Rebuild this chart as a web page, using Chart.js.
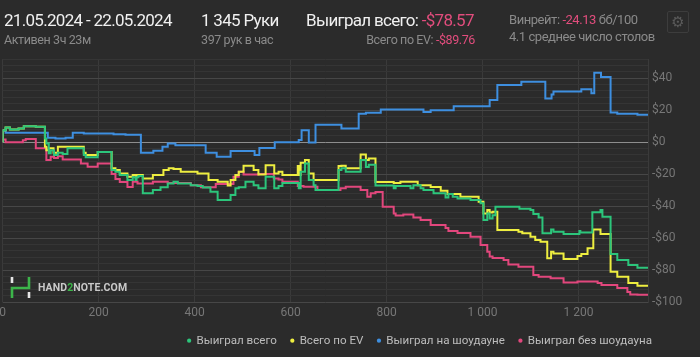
<!DOCTYPE html>
<html><head><meta charset="utf-8">
<script src="https://cdn.jsdelivr.net/npm/chart.js@4.4.1/dist/chart.umd.min.js"></script>
<style>
html,body{margin:0;padding:0;background:#2b2b2b;width:700px;height:357px;overflow:hidden;font-family:Roboto,"Noto Sans",sans-serif;}
#wrap{position:relative;width:700px;height:357px;}
canvas{position:absolute;left:0;top:0;}
.t{position:absolute;white-space:nowrap;line-height:1;}
.big{font-size:17px;color:#f0f0f0;letter-spacing:-0.7px;}
.sm{font-size:12.5px;color:#8a8a8a;letter-spacing:-0.4px;}
.md{font-size:13px;color:#8a8a8a;letter-spacing:-0.45px;}
.neg{color:#e24d7d;}
#gear{position:absolute;left:667px;top:11px;width:22px;height:22px;border:1px solid #3d3d3d;border-radius:2px;box-sizing:border-box;color:#5a5a5a;font-size:15px;line-height:20px;text-align:center;font-family:"DejaVu Sans";}
#wm{position:absolute;left:38px;top:283px;font-size:10.5px;font-weight:bold;color:#c9c9c9;line-height:1;letter-spacing:0.1px;}
</style></head>
<body><div id="wrap">
<canvas id="c" width="700" height="357"></canvas>
<div class="t big" style="left:4px;top:11.5px">21.05.2024 - 22.05.2024</div>
<div class="t sm" style="left:4px;top:33.5px">Активен 3ч 23м</div>
<div class="t big" style="left:201px;top:11.5px">1 345 Руки</div>
<div class="t sm" style="left:201px;top:33.5px">397 рук в час</div>
<div class="t big" style="left:306px;top:11.5px">Выиграл всего: <span class="neg">-$78.57</span></div>
<div class="t sm" style="right:225px;top:33.5px">Всего по EV: <span class="neg">-$89.76</span></div>
<div class="t md" style="left:509px;top:13px">Винрейт: <span class="neg">-24.13</span> бб/100</div>
<div class="t md" style="left:509px;top:29.5px">4.1 среднее число столов</div>
<div id="gear">⚙</div>
<svg style="position:absolute;left:10px;top:277px" width="21" height="21" viewBox="0 0 21 21">
 <path d="M2 0 V6" stroke="#e6e6e6" stroke-width="2.6" fill="none"/>
 <path d="M2 21 V11 H19 V0" stroke="#3cb54a" stroke-width="2.6" fill="none"/>
 <path d="M19 15 V21" stroke="#e6e6e6" stroke-width="2.6" fill="none"/>
</svg>
<div id="wm">HAND<span style="color:#3cb54a">2</span>NOTE.COM</div>
</div>
<script>
// Hand number where each step starts, and cumulative $ from that hand on
const greenHands = [0,6,15,33,44,69,88,91,96,100,107,115,125,135,169,173,198,227,235,244,260,271,277,279,283,292,313,329,344,356,365,392,406,417,433,448,475,485,492,506,523,533,548,566,575,583,617,621,630,638,648,652,700,706,715,746,757,763,777,815,819,850,856,871,877,898,923,929,938,948,975,996,1002,1010,1015,1021,1027,1077,1100,1106,1117,1125,1143,1148,1169,1202,1204,1229,1246,1250,1267,1281,1304,1323,1335,1345];
const greenValues = [0,7.5,9.2,7.9,8.6,10,9.6,2.3,-0.8,-6.9,-5,-8.1,-6.7,-7.5,-3.9,-8.1,-9.4,-6.1,-17.5,-18.6,-20.6,-23.75,-22,-23.75,-21.9,-21.25,-32,-30,-28.3,-25.8,-24.8,-25.8,-26.9,-27.5,-28.4,-31,-36.25,-33.1,-28.9,-28.3,-24.8,-26.9,-28.9,-21.7,-28.9,-27.5,-25.6,-28.9,-18.6,-13.3,-23.75,-26.9,-30,-17.5,-16.4,-18.6,-11.25,-15.6,-14.1,-27.2,-28.9,-27.5,-28.9,-26.9,-28.9,-30,-32,-34.6,-32.5,-34.2,-35.2,-36.25,-38.3,-48.75,-44.6,-47.7,-45.8,-40.4,-41.6,-42.5,-45,-47.2,-57,-54.6,-56,-57.5,-55.6,-56.6,-43.9,-42.5,-46.7,-70,-73.75,-76.9,-78.57,-78.57];

const yellowHands = [0,6,15,33,44,69,88,91,96,106,115,169,173,198,227,235,244,260,271,277,279,292,313,335,346,356,371,406,429,448,469,475,485,492,502,523,533,548,566,575,583,615,617,621,630,638,648,700,706,715,746,757,763,777,815,829,865,892,913,927,954,992,1002,1010,1015,1021,1031,1075,1083,1100,1110,1121,1135,1143,1148,1169,1198,1206,1219,1231,1246,1267,1281,1304,1323,1335,1345];
const yellowValues = [0,7.5,9.2,7.9,8.6,10,9.6,-2.9,-5,-3.75,-6.7,-2.9,-6.7,-8.1,-6.1,-16.4,-17.5,-19.6,-21.7,-20.6,-22,-20.6,-22.7,-20.6,-17.5,-16.4,-16.75,-18.6,-19.6,-23.75,-24.8,-27.2,-23.75,-20.6,-18.6,-14.7,-17.5,-20.2,-14.4,-19.6,-18.6,-20.6,-15,-20.6,-12.9,-11.25,-19.6,-23.75,-15,-14.7,-16.4,-7.8,-11.25,-10.2,-25,-25.6,-24.8,-26.9,-28.1,-30.4,-32.5,-34.2,-37.3,-44.6,-42.5,-44,-43.6,-55,-56,-57,-59.2,-61.25,-62.3,-72.7,-68.6,-69.7,-73.1,-71.25,-70,-66.4,-54.6,-57.5,-81,-84.2,-88.1,-89.76,-89.76];

const blueHands = [0,6,94,110,131,146,169,231,256,288,314,333,344,360,423,446,475,525,535,567,617,623,638,652,706,742,757,788,877,892,940,1015,1031,1081,1131,1144,1148,1206,1227,1233,1247,1267,1281,1323,1329,1345];
const blueValues = [0,7.2,5.8,2.8,2.2,2.8,5.8,5.4,5.0,4.6,-6.7,-5.4,-2.9,-0.8,-1.9,-6.7,-9.2,-5.6,-8.1,-3.6,0.0,1.3,7.5,-0.3,10.9,8.6,17.8,18.4,20.4,18.9,20,22.5,26.3,35.8,37.8,27.3,29.8,31.6,33.1,30.6,43.4,40.8,18.6,17.8,17.2,17.2];

const redHands = [0,6,42,48,69,91,100,107,115,125,163,177,198,227,235,244,260,271,281,313,344,392,413,444,481,492,502,533,565,575,583,615,627,656,704,715,746,760,767,777,792,815,819,835,856,871,892,923,929,948,975,996,1010,1015,1021,1044,1054,1075,1106,1117,1142,1169,1198,1240,1248,1281,1302,1308,1323,1345];
const redValues = [0,1.7,-0.1,1.25,2,-3.9,-11.25,-9.2,-10,-8.9,-10.8,-13.3,-15.4,-13.3,-20,-23.1,-25,-28.1,-24.8,-25.8,-24.8,-25.6,-26.9,-28.3,-26.25,-21.7,-18.6,-20.2,-20,-22.7,-23.3,-24.8,-27.5,-27.9,-30,-28.9,-27.9,-30,-34.2,-32,-31.25,-40.4,-44.6,-45.9,-45.3,-47.2,-48.75,-51.9,-53.75,-55.6,-56.9,-59.2,-64.4,-68.6,-71.6,-72.5,-73.75,-76.6,-77.9,-83.1,-84.2,-85.2,-87.8,-87.2,-88.1,-89.4,-91.25,-93.75,-95.3,-95.5];

const seriesLabels = ['Выиграл всего','Всего по EV','Выиграл на шоудауне','Выиграл без шоудауна'];
const seriesColors = ['#2cc57b','#eeee40','#3e8fe0','#e2477d'];
const totalHands = 1345;

function pts(h, v){ return h.map((x,i)=>({x:x, y:v[i]})); }
function fmtHands(v){ if (v % 200 !== 0) return ''; return v >= 1000 ? Math.floor(v/1000)+' '+String(v%1000).padStart(3,'0') : String(v); }
function fmtMoney(v){ if (v % 20 !== 0) return ''; return (v < 0 ? '-$' : '$') + Math.abs(v); }

const series = [[greenHands,greenValues],[yellowHands,yellowValues],[blueHands,blueValues],[redHands,redValues]];

const legendPlace = { id: 'legendPlace', afterLayout(chart){ const l = chart.legend; if (!l) return; l.right = 666; l.top -= 3.5; l.bottom -= 3.5; } };

new Chart(document.getElementById('c'), {
  type: 'line',
  data: { datasets: series.map((s,i)=>({
    label: seriesLabels[i], data: pts(s[0], s[1]),
    borderColor: seriesColors[i], backgroundColor: seriesColors[i],
    borderWidth: 2, stepped: 'after', pointRadius: 0, fill: false
  })) },
  options: {
    responsive: false, animation: false, devicePixelRatio: 1,
    layout: { padding: { left: 0, right: 0, top: 59, bottom: -3 } },
    scales: {
      x: { type: 'linear', min: 0, max: totalHands,
        afterFit: s => { s.paddingLeft = 2.7; s.paddingRight = 0; },
        ticks: { stepSize: 200, autoSkip: false, maxRotation: 0, padding: 4, color: '#777', font: { family: 'Roboto', size: 12 }, callback: v => fmtHands(v) },
        grid: { color: '#3a3a3a', drawTicks: false }, border: { display: false } },
      y: { position: 'right', min: -100, max: 52,
        afterFit: s => { s.width = 52; },
        ticks: { stepSize: 4, autoSkip: false, padding: 4, color: '#777', font: { family: 'Roboto', size: 12 }, callback: v => fmtMoney(v) },
        grid: { drawTicks: false, color: c => (c.tick && c.tick.value === 0) ? '#8e8e8e' : ((c.tick && c.tick.value % 20 === 0) ? '#474747' : '#353535') },
        border: { display: true, color: '#3a3a3a' } }
    },
    plugins: {
      legend: { position: 'bottom', align: 'end',
        labels: { usePointStyle: true, pointStyle: 'circle', boxWidth: 3, boxHeight: 3, padding: 14, color: '#bdbdbd', font: { family: 'Roboto', size: 11.6 },
          generateLabels: ch => Chart.defaults.plugins.legend.labels.generateLabels(ch).map(l => Object.assign(l, { lineWidth: 0 })) } },
      tooltip: { enabled: false }
    }
  },
  plugins: [legendPlace]
});
</script>
</body></html>
